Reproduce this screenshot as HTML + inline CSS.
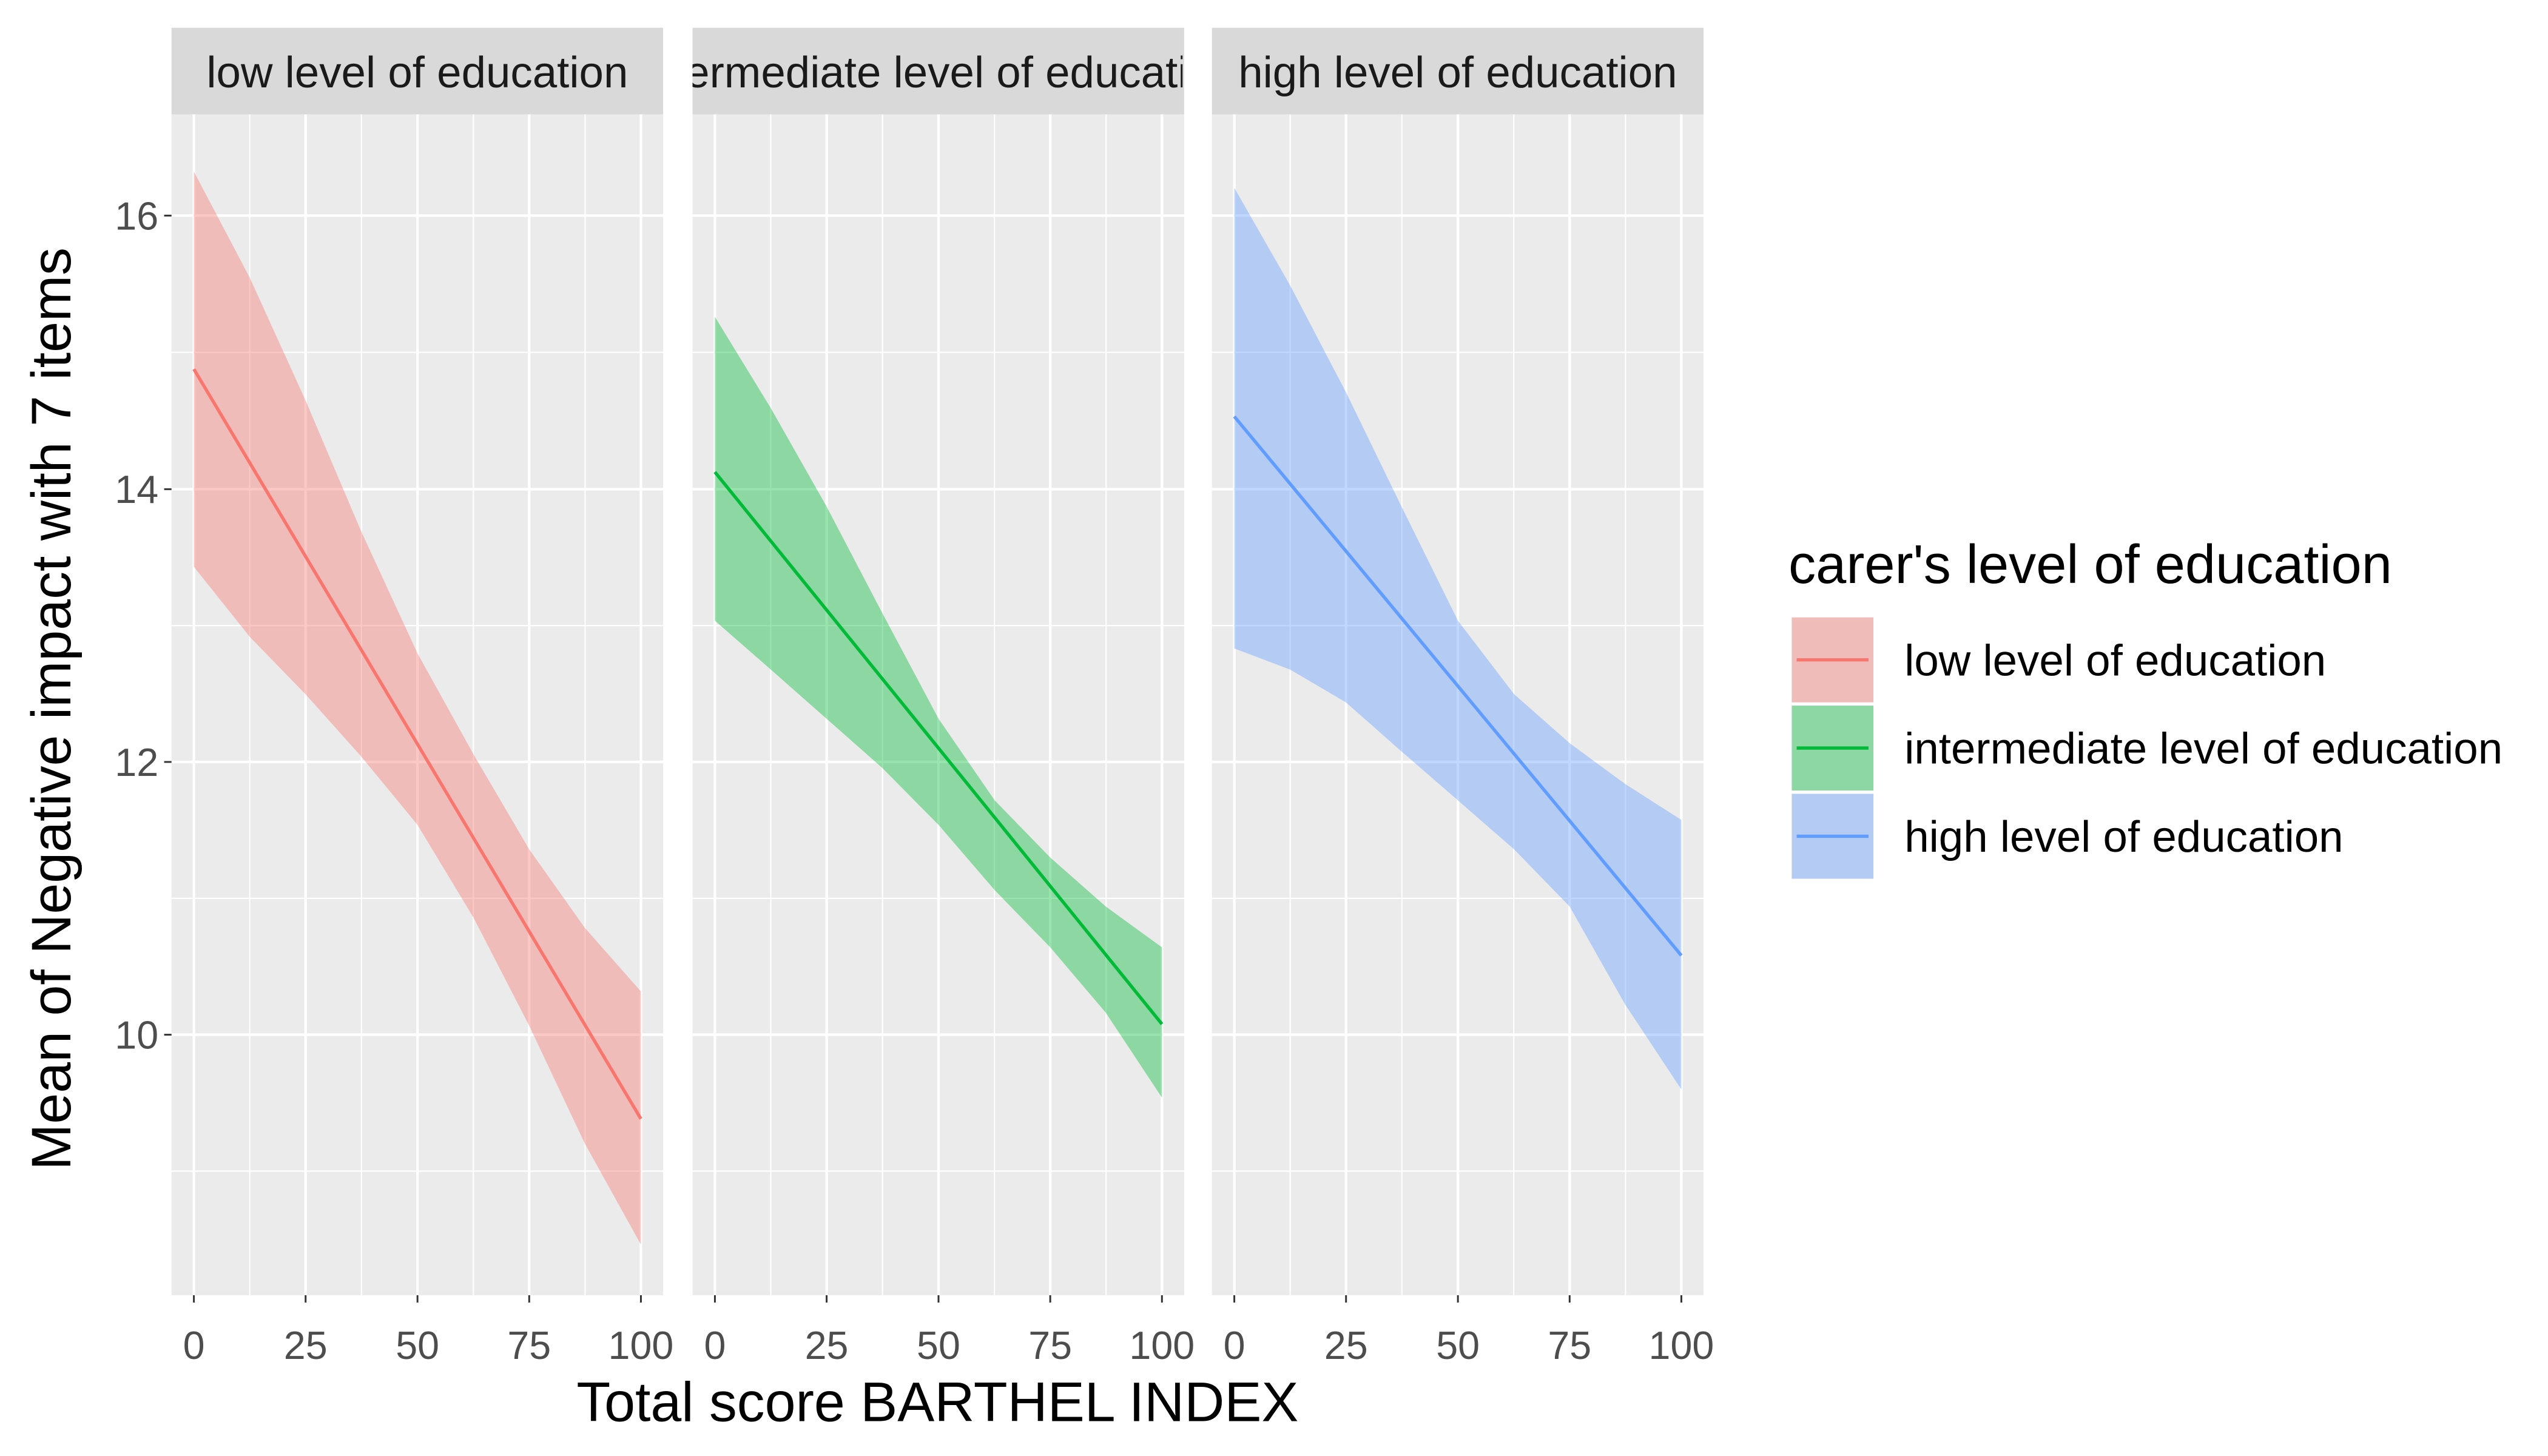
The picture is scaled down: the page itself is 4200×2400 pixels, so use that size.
<!DOCTYPE html>
<html><head><meta charset="utf-8"><style>html,body{margin:0;padding:0;background:#fff}svg{display:block}</style></head>
<body>
<svg width="4200" height="2400" viewBox="0 0 1560 891.43" xmlns="http://www.w3.org/2000/svg" font-family="Liberation Sans, sans-serif">
<defs>
<clipPath id="c1"><rect x="105" y="17" width="301" height="53"/></clipPath>
<clipPath id="c2"><rect x="424" y="17" width="300" height="53"/></clipPath>
<clipPath id="c3"><rect x="742" y="17" width="301" height="53"/></clipPath>
<g id="grid">
<rect x="105" y="70" width="301" height="723" fill="#EBEBEB"/>
<g stroke="#fff" stroke-width="0.8">
<line x1="105" x2="406" y1="215.7" y2="215.7"/><line x1="105" x2="406" y1="383" y2="383"/><line x1="105" x2="406" y1="550" y2="550"/><line x1="105" x2="406" y1="717" y2="717"/>
<line x1="152.9" x2="152.9" y1="70" y2="793"/><line x1="221.3" x2="221.3" y1="70" y2="793"/><line x1="289.8" x2="289.8" y1="70" y2="793"/><line x1="358.2" x2="358.2" y1="70" y2="793"/>
</g>
<g stroke="#fff" stroke-width="1.6">
<line x1="105" x2="406" y1="132" y2="132"/><line x1="105" x2="406" y1="299.5" y2="299.5"/><line x1="105" x2="406" y1="466.5" y2="466.5"/><line x1="105" x2="406" y1="633.5" y2="633.5"/>
<line x1="118.7" x2="118.7" y1="70" y2="793"/><line x1="187.1" x2="187.1" y1="70" y2="793"/><line x1="255.6" x2="255.6" y1="70" y2="793"/><line x1="324" x2="324" y1="70" y2="793"/><line x1="392.4" x2="392.4" y1="70" y2="793"/>
</g>
<g stroke="#333" stroke-width="1.1">
<line x1="118.7" x2="118.7" y1="793" y2="797.5"/><line x1="187.1" x2="187.1" y1="793" y2="797.5"/><line x1="255.6" x2="255.6" y1="793" y2="797.5"/><line x1="324" x2="324" y1="793" y2="797.5"/><line x1="392.4" x2="392.4" y1="793" y2="797.5"/>
</g>
<g font-size="24" fill="#4D4D4D" text-anchor="middle">
<text x="118.7" y="832">0</text><text x="187.1" y="832">25</text><text x="255.6" y="832">50</text><text x="324" y="832">75</text><text x="392.4" y="832">100</text>
</g>
<rect x="105" y="17" width="301" height="53" fill="#D9D9D9"/>
</g>
</defs>
<use href="#grid"/>
<use href="#grid" transform="translate(319,0)"/>
<use href="#grid" transform="translate(637,0)"/>
<g stroke="#333" stroke-width="1.1">
<line x1="100.5" x2="105" y1="132" y2="132"/><line x1="100.5" x2="105" y1="299.5" y2="299.5"/><line x1="100.5" x2="105" y1="466.5" y2="466.5"/><line x1="100.5" x2="105" y1="633.5" y2="633.5"/>
</g>
<g font-size="24" fill="#4D4D4D" text-anchor="end">
<text x="97" y="140.5">16</text><text x="97" y="308">14</text><text x="97" y="475">12</text><text x="97" y="642">10</text>
</g>
<g font-size="27" fill="#1A1A1A" text-anchor="middle">
<text x="255.5" y="53.5" clip-path="url(#c1)">low level of education</text>
<text x="574" y="53.5" clip-path="url(#c2)">intermediate level of education</text>
<text x="892.5" y="53.5" clip-path="url(#c3)">high level of education</text>
</g>
<polygon fill="#F8766D" fill-opacity="0.4" points="118.7,105 152.9,170 187,245 221,325 255.6,400 290,462 324,520 358,568 392.4,607 392.4,762 358,700 324,628 290,562 255.6,505 221,463 187,425 153,390 118.7,347"/>
<line x1="118.7" y1="226" x2="392.4" y2="685" stroke="#F8766D" stroke-width="2"/>
<polygon fill="#00BA38" fill-opacity="0.4" points="437.7,194 472,250 506,310 540,375 574.6,440 609,490 643,525 677,555 711.4,580 711.4,672 677,620 643,580 609,545 574.6,505 540,470 506,440 472,410 437.7,380"/>
<line x1="437.7" y1="289" x2="711.4" y2="627" stroke="#00BA38" stroke-width="2"/>
<polygon fill="#619CFF" fill-opacity="0.4" points="755.7,115 790,175 824,240 858,310 892.6,380 927,425 961,455 995,480 1029.4,502 1029.4,667 995,615 961,555 927,520 892.6,490 858,460 824,430 790,410 755.7,397"/>
<line x1="755.7" y1="255" x2="1029.4" y2="585" stroke="#619CFF" stroke-width="2"/>
<text x="574" y="870" font-size="34" text-anchor="middle" fill="#000">Total score BARTHEL INDEX</text>
<text transform="translate(43,434) rotate(-90)" font-size="34" text-anchor="middle" fill="#000">Mean of Negative impact with 7 items</text>
<text x="1095" y="357" font-size="33.5" fill="#000">carer's level of education</text>
<rect x="1097" y="378" width="50" height="52" fill="#EBEBEB"/><rect x="1097" y="378" width="50" height="52" fill="#F8766D" fill-opacity="0.4"/>
<line x1="1100" x2="1144" y1="404" y2="404" stroke="#F8766D" stroke-width="2"/>
<rect x="1097" y="432" width="50" height="52" fill="#EBEBEB"/><rect x="1097" y="432" width="50" height="52" fill="#00BA38" fill-opacity="0.4"/>
<line x1="1100" x2="1144" y1="458" y2="458" stroke="#00BA38" stroke-width="2"/>
<rect x="1097" y="486" width="50" height="52" fill="#EBEBEB"/><rect x="1097" y="486" width="50" height="52" fill="#619CFF" fill-opacity="0.4"/>
<line x1="1100" x2="1144" y1="512" y2="512" stroke="#619CFF" stroke-width="2"/>
<g font-size="27" fill="#000">
<text x="1166" y="413.5">low level of education</text>
<text x="1166" y="467.5">intermediate level of education</text>
<text x="1166" y="521.5">high level of education</text>
</g>
</svg>
</body></html>
